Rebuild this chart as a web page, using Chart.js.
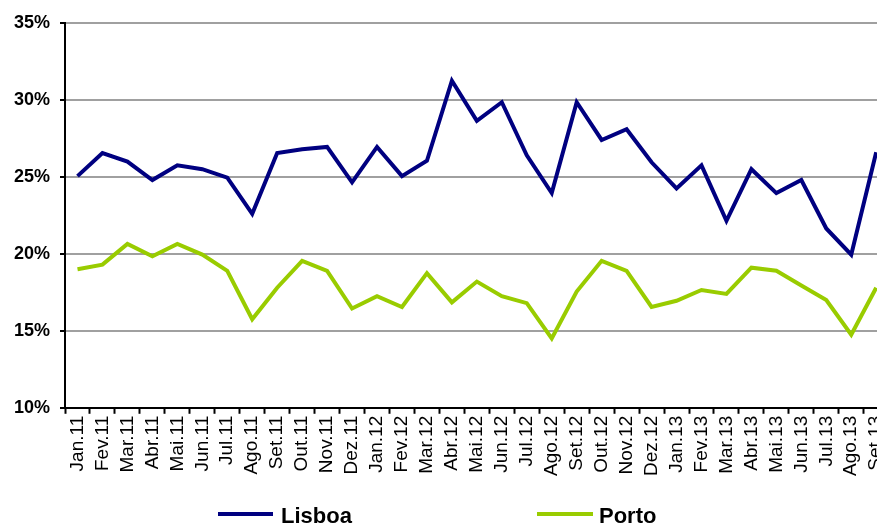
<!DOCTYPE html>
<html>
<head>
<meta charset="utf-8">
<script src="https://cdn.jsdelivr.net/npm/chart.js@4.4.1/dist/chart.umd.min.js"></script>
<style>
  html, body { margin: 0; padding: 0; background: #fff; overflow: hidden; width: 877px; height: 525px; }
  #wrap { position: absolute; left: 0; top: 0; width: 901px; height: 525px; }
</style>
</head>
<body>
<div id="wrap"><canvas id="c"></canvas></div>
<script>
const categories = ["Jan.11","Fev.11","Mar.11","Abr.11","Mai.11","Jun.11","Jul.11","Ago.11","Set.11","Out.11","Nov.11","Dez.11",
  "Jan.12","Fev.12","Mar.12","Abr.12","Mai.12","Jun.12","Jul.12","Ago.12","Set.12","Out.12","Nov.12","Dez.12",
  "Jan.13","Fev.13","Mar.13","Abr.13","Mai.13","Jun.13","Jul.13","Ago.13","Set.13"];
const lisboa = [25.05, 26.55, 26.0, 24.8, 25.75, 25.5, 24.95, 22.6, 26.55, 26.8, 26.95, 24.65,
  26.95, 25.05, 26.05, 31.25, 28.65, 29.85, 26.4, 23.95, 29.85, 27.4, 28.1, 25.95,
  24.25, 25.75, 22.15, 25.5, 23.95, 24.8, 21.65, 19.95, 26.6];
const porto = [19.0, 19.3, 20.65, 19.85, 20.65, 19.95, 18.9, 15.75, 17.8, 19.55, 18.9, 16.45,
  17.25, 16.55, 18.75, 16.85, 18.2, 17.25, 16.8, 14.5, 17.55, 19.55, 18.9, 16.55,
  16.95, 17.65, 17.4, 19.1, 18.9, 17.95, 17.0, 14.75, 17.8];
const yTicks = [10, 15, 20, 25, 30, 35];
const seriesNames = ["Lisboa", "Porto"];
const seriesColors = ["#000080", "#99CC00"];

const legendPlugin = {
  id: 'customLegend',
  afterDraw(chart) {
    const ctx = chart.ctx;
    const items = [
      { x1: 218, x2: 273, tx: 281 },
      { x1: 537, x2: 593, tx: 599 }
    ];
    ctx.save();
    chart.data.datasets.forEach((ds, i) => {
      const it = items[i];
      ctx.strokeStyle = ds.borderColor;
      ctx.lineWidth = 4;
      ctx.beginPath();
      ctx.moveTo(it.x1, 514);
      ctx.lineTo(it.x2, 514);
      ctx.stroke();
      ctx.fillStyle = '#000';
      ctx.font = 'bold 22px "Liberation Sans", Arial, sans-serif';
      ctx.textBaseline = 'alphabetic';
      ctx.textAlign = 'left';
      ctx.fillText(ds.label, it.tx, 523);
    });
    ctx.restore();
  }
};

new Chart(document.getElementById('c'), {
  type: 'line',
  data: {
    labels: categories,
    datasets: [
      { label: seriesNames[0], data: lisboa, borderColor: seriesColors[0], backgroundColor: seriesColors[0], borderWidth: 4, pointRadius: 0, tension: 0, fill: false },
      { label: seriesNames[1], data: porto, borderColor: seriesColors[1], backgroundColor: seriesColors[1], borderWidth: 4, pointRadius: 0, tension: 0, fill: false }
    ]
  },
  options: {
    responsive: true,
    maintainAspectRatio: false,
    animation: false,
    layout: { padding: { left: 4, top: 23, right: 0, bottom: 47 } },
    plugins: { legend: { display: false }, tooltip: { enabled: false } },
    scales: {
      x: {
        offset: true,
        grid: { display: true, drawOnChartArea: false, offset: true, tickLength: 6, tickColor: '#000', tickWidth: 2 },
        border: { color: '#000', width: 2 },
        ticks: {
          autoSkip: false, maxRotation: 90, minRotation: 90, padding: 2,
          color: '#000', font: { family: '"Liberation Sans", Arial, sans-serif', size: 19 }
        }
      },
      y: {
        min: 10, max: 35,
        afterBuildTicks(scale) { scale.ticks = yTicks.map(v => ({ value: v })); },
        grid: { color: '#a0a0a0', lineWidth: 2, tickLength: 5, tickColor: '#000', tickWidth: 2 },
        border: { color: '#000', width: 2 },
        ticks: {
          padding: 10, color: '#000',
          font: { family: '"Liberation Sans", Arial, sans-serif', size: 18, weight: 'bold' },
          callback: v => v + '%'
        }
      }
    }
  },
  plugins: [legendPlugin]
});
</script>
</body>
</html>
